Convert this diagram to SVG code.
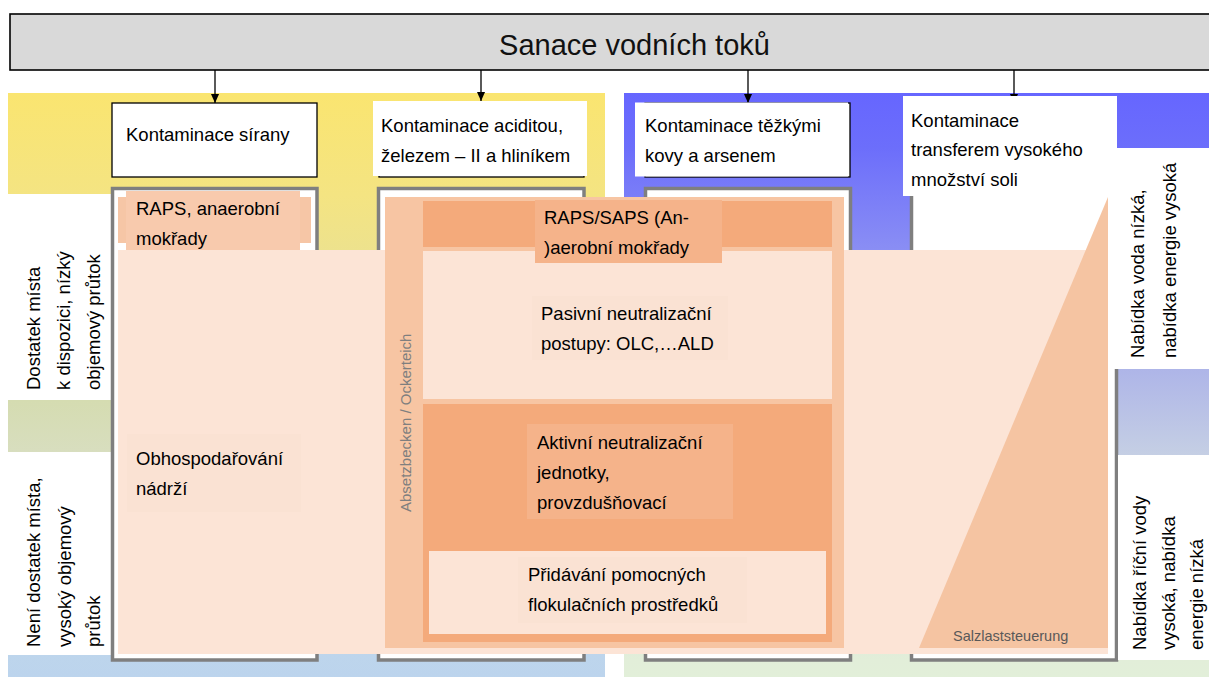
<svg xmlns="http://www.w3.org/2000/svg" width="1209" height="677" viewBox="0 0 1209 677">
<defs>
<linearGradient id="gLeft" gradientUnits="userSpaceOnUse" x1="0" y1="93" x2="0" y2="677">
<stop offset="0" stop-color="#FAE570"/>
<stop offset="0.175" stop-color="#F4E482"/>
<stop offset="0.27" stop-color="#EDE28D"/>
<stop offset="0.527" stop-color="#D5DCB1"/>
<stop offset="0.616" stop-color="#D8DEBF"/>
<stop offset="0.963" stop-color="#BDD5EC"/>
<stop offset="1" stop-color="#BCD4ED"/>
</linearGradient>
<linearGradient id="gRight" gradientUnits="userSpaceOnUse" x1="0" y1="93" x2="0" y2="677">
<stop offset="0" stop-color="#6666FF"/>
<stop offset="0.094" stop-color="#6C6EFB"/>
<stop offset="0.269" stop-color="#8A8EF4"/>
<stop offset="0.473" stop-color="#AEB5E8"/>
<stop offset="0.62" stop-color="#C5CFE4"/>
<stop offset="0.971" stop-color="#E2EED9"/>
<stop offset="1" stop-color="#E2EFD9"/>
</linearGradient>
<marker id="arrow" viewBox="0 0 10 10" refX="10" refY="5" markerWidth="9" markerHeight="9" markerUnits="userSpaceOnUse" orient="auto">
<path d="M0,0.5 L10,5 L0,9.5 z" fill="#000"/>
</marker>
</defs>
<style>
.t{font-family:"Liberation Sans",Arial,sans-serif;font-size:18.5px;fill:#000}
.title{font-family:"Liberation Sans",Arial,sans-serif;font-size:29px;fill:#111}
.small{font-family:"Liberation Sans",Arial,sans-serif;font-size:15px;fill:#7F7F7F}
.salt{font-family:"Liberation Sans",Arial,sans-serif;font-size:14.5px;fill:#595959}
.frame{fill:#fff;stroke:#7F7F7F;stroke-width:3.5}
.head{fill:#fff;stroke:#000;stroke-width:1.3}
.white{fill:#fff}
.pale{fill:#FCE4D6}
.paleBox{fill:#FAE2D3}
.block{fill:#F7C5A3}
.dark{fill:#F4AA7B}
.darkBox{fill:#F5B38A}
.conn{stroke:#000;stroke-width:1.3;fill:none}
</style>
<rect x="0" y="0" width="1209" height="677" fill="#fff"/>
<g id="backgrounds">
<rect x="8" y="93" width="597" height="584" fill="url(#gLeft)"/>
<rect x="624" y="93" width="585" height="584" fill="url(#gRight)"/>
</g>
<g id="title">
<rect x="10" y="14" width="1210" height="56" fill="#D9D9D9" stroke="#000" stroke-width="1.6"/>
<text class="title" x="634.5" y="55" text-anchor="middle">Sanace vodních toků</text>
</g>
<g id="connectors">
<line class="conn" x1="215" y1="70" x2="215" y2="103" marker-end="url(#arrow)"/>
<line class="conn" x1="481" y1="70" x2="481" y2="101" marker-end="url(#arrow)"/>
<line class="conn" x1="748" y1="70" x2="748" y2="103" marker-end="url(#arrow)"/>
<line class="conn" x1="1014" y1="70" x2="1014" y2="103" marker-end="url(#arrow)"/>
</g>
<g id="head-sirany">
<rect class="head" x="112" y="103" width="205" height="74"/>
<text class="t" x="126" y="141">Kontaminace sírany</text>
</g>
<g id="head-aciditou">
<rect class="head" x="379" y="103" width="205" height="74"/>
<rect class="white" x="373" y="101" width="214" height="75"/>
<text class="t" x="381" y="132">Kontaminace aciditou,</text>
<text class="t" x="381" y="162">železem – II a hliníkem</text>
</g>
<g id="head-kovy">
<rect class="head" x="645" y="103" width="205" height="74"/>
<rect class="white" x="635" y="102.5" width="213" height="74"/>
<text class="t" x="645" y="132">Kontaminace těžkými</text>
<text class="t" x="645" y="162">kovy a arsenem</text>
</g>
<g id="label-dostatek">
<rect class="white" x="8" y="194" width="103" height="206"/>
<text class="t" transform="rotate(-90 40 390)" x="40" y="390">Dostatek místa</text>
<text class="t" transform="rotate(-90 70 390)" x="70" y="390">k dispozici, nízký</text>
<text class="t" transform="rotate(-90 100 390)" x="100" y="390">objemový průtok</text>
</g>
<g id="label-neni">
<rect class="white" x="8" y="452" width="103" height="203"/>
<text class="t" transform="rotate(-90 40 647)" x="40" y="647">Není dostatek místa,</text>
<text class="t" transform="rotate(-90 71 647)" x="71" y="647">vysoký objemový</text>
<text class="t" transform="rotate(-90 100 647)" x="100" y="647">průtok</text>
</g>
<g id="frames">
<rect class="frame" x="112.5" y="188.5" width="204.5" height="471.5"/>
<rect class="frame" x="378.5" y="188.5" width="205.5" height="471.5"/>
<rect class="frame" x="645.5" y="188.5" width="205" height="471.5"/>
<rect class="frame" x="911.5" y="188.5" width="205" height="471.5"/>
</g>
<g id="head-soli">
<rect class="white" x="903" y="96" width="214" height="100"/>
<text class="t" x="911" y="127">Kontaminace</text>
<text class="t" x="911" y="156">transferem vysokého</text>
<text class="t" x="911" y="186">množství soli</text>
</g>
<g id="label-nabidka-nizka">
<rect class="white" x="1113" y="148" width="96" height="221"/>
<text class="t" transform="rotate(-90 1144 358)" x="1144" y="358">Nabídka voda nízká,</text>
<text class="t" transform="rotate(-90 1176 358)" x="1176" y="358">nabídka energie vysoká</text>
</g>
<g id="label-nabidka-vysoka">
<rect class="white" x="1118" y="455" width="91" height="205"/>
<text class="t" transform="rotate(-90 1146 650)" x="1146" y="650">Nabídka říční vody</text>
<text class="t" transform="rotate(-90 1175 650)" x="1175" y="650">vysoká, nabídka</text>
<text class="t" transform="rotate(-90 1203 650)" x="1203" y="650">energie nízká</text>
</g>
<g id="raps-anaerobni">
<rect x="118" y="197" width="193" height="46" fill="#F6C6A6"/>
<rect x="126" y="191" width="174" height="63" fill="#F8CAAD"/>
<text class="t" x="136" y="215">RAPS, anaerobní</text>
<text class="t" x="136" y="245">mokřady</text>
</g>
<g id="obhospodarovani">
<rect class="pale" x="118" y="250" width="990" height="404"/>
<rect class="paleBox" x="127" y="434" width="174" height="78"/>
<text class="t" x="136" y="465">Obhospodařování</text>
<text class="t" x="136" y="495">nádrží</text>
</g>
<g id="absetzbecken">
<rect class="block" x="385" y="197" width="459" height="451"/>
<text class="small" transform="rotate(-90 411 512)" x="411" y="512">Absetzbecken / Ockerteich</text>
</g>
<g id="raps-saps">
<rect class="dark" x="423" y="201" width="409" height="46"/>
</g>
<g id="pasivni">
<rect class="pale" x="423" y="251" width="409" height="148"/>
<rect class="paleBox" x="532" y="296" width="196" height="64"/>
<text class="t" x="541" y="320">Pasivní neutralizační</text>
<text class="t" x="541" y="350">postupy: OLC,…ALD</text>
</g>
<g id="raps-saps-label">
<rect class="darkBox" x="535" y="200" width="187" height="63"/>
<text class="t" x="544" y="224">RAPS/SAPS (An-</text>
<text class="t" x="544" y="254">)aerobní mokřady</text>
</g>
<g id="aktivni">
<rect class="dark" x="423" y="404" width="409" height="238"/>
<rect class="darkBox" x="527" y="424" width="206" height="95"/>
<text class="t" x="537" y="449">Aktivní neutralizační</text>
<text class="t" x="537" y="479">jednotky,</text>
<text class="t" x="537" y="509">provzdušňovací</text>
</g>
<g id="pridavani">
<rect class="pale" x="429" y="551" width="397" height="83"/>
<rect class="paleBox" x="518" y="557" width="229" height="66"/>
<text class="t" x="528" y="581">Přidávání pomocných</text>
<text class="t" x="528" y="611">flokulačních prostředků</text>
</g>
<g id="salzlaststeuerung">
<polygon points="1108,197 1108,648 919,648" fill="#F5C4A2"/>
<text class="salt" x="953" y="641">Salzlaststeuerung</text>
</g>
</svg>
